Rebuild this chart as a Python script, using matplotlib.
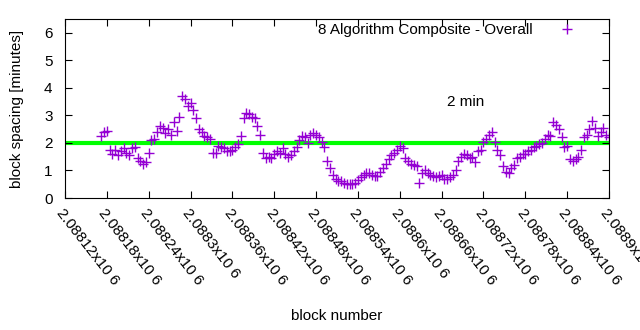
import numpy as np
import matplotlib
matplotlib.use("Agg")
import matplotlib.pyplot as plt
from matplotlib.ticker import FuncFormatter, MultipleLocator

plt.rcParams['font.family'] = ['Liberation Sans', 'DejaVu Sans']

# block numbers (every 4th block shown) and spacing in minutes
blocks = np.arange(2088172, 2088901, 4)
spacing = [
    2.25, 2.4, 2.45, 1.75, 1.6, 1.75, 1.55, 1.7, 1.8, 1.65,
    1.55, 1.8, 1.85, 1.45, 1.35, 1.25, 1.3, 1.65, 2.1, 2.15,
    2.4, 2.6, 2.55, 2.35, 2.5, 2.3, 2.75, 2.45, 2.95, 3.7,
    3.6, 3.35, 3.45, 3.2, 2.9, 2.5, 2.4, 2.25, 2.2, 2.15,
    1.65, 1.65, 1.9, 1.85, 1.8, 1.7, 1.7, 1.75, 1.85, 1.95,
    2.25, 2.9, 3.1, 3.05, 2.95, 2.9, 2.6, 2.3, 1.65, 1.45,
    1.5, 1.45, 1.6, 1.7, 1.65, 1.8, 1.6, 1.5, 1.55, 1.7,
    1.85, 2.1, 2.25, 2.2, 2.0, 2.3, 2.35, 2.3, 2.2, 2.05,
    1.85, 1.35, 1.1, 0.85, 0.7, 0.6, 0.6, 0.55, 0.5, 0.5,
    0.5, 0.55, 0.65, 0.75, 0.85, 0.9, 0.9, 0.85, 0.8, 0.8,
    0.95, 1.1, 1.25, 1.4, 1.55, 1.65, 1.75, 1.9, 1.8, 1.45,
    1.35, 1.25, 1.2, 1.15, 0.55, 0.9, 1.0, 0.9, 0.85, 0.8,
    0.75, 0.8, 0.85, 0.7, 0.7, 0.75, 0.85, 1.0, 1.35, 1.5,
    1.6, 1.55, 1.45, 1.5, 1.3, 1.7, 1.75, 2.05, 2.15, 2.3,
    2.4, 2.05, 1.75, 1.55, 1.15, 0.95, 0.9, 1.1, 1.2, 1.45,
    1.5, 1.6, 1.6, 1.7, 1.75, 1.85, 1.9, 1.95, 2.0, 2.15,
    2.3, 2.25, 2.75, 2.65, 2.5, 2.2, 1.85, 1.9, 1.4, 1.35,
    1.4, 1.5, 1.75, 2.2, 2.3, 2.5, 2.8, 2.55, 2.25, 2.4,
    2.55, 2.3, 2.2,
]
target = 2.0
x_range = (2088120, 2088900)
series_label = "8 Algorithm Composite - Overall"

fig = plt.figure(figsize=(6.4, 3.3), dpi=100)
ax = fig.add_axes([65 / 640, 132 / 330, 544 / 640, 179 / 330])

ax.axhline(target, color='#00ff00', linewidth=3, zorder=1)
ax.plot(blocks, spacing, linestyle='none', marker='+', color='#9400d3',
        markersize=6.5, markeredgewidth=1, label=series_label, zorder=2)
ax.text(2088668, 3.5, "2 min", fontsize=11, va='center', ha='left')

ax.set_xlim(*x_range)
ax.set_ylim(0, 6.5)
ax.xaxis.set_major_locator(MultipleLocator(60))
ax.yaxis.set_major_locator(MultipleLocator(1))
ax.xaxis.set_major_formatter(FuncFormatter(lambda v, p: f"{v / 1e6:g}x10 6"))
ax.tick_params(direction='in', top=True, right=True, length=5)
ax.tick_params(axis='x', pad=6, labelsize=11)
ax.tick_params(axis='y', pad=9, labelsize=11)
for lbl in ax.get_xticklabels():
    lbl.set_rotation(-52)
    lbl.set_ha('left')
    lbl.set_va('top')
    lbl.set_rotation_mode('anchor')

ax.set_xlabel("block number", fontsize=11)
ax.set_ylabel("block spacing [minutes]", fontsize=11)
ax.xaxis.set_label_coords(0.5, -0.62)
ax.yaxis.set_label_coords(-0.075, 0.5)
ax.legend(loc='upper right', bbox_to_anchor=(0.963, 0.975), frameon=False,
          markerfirst=False, fontsize=11, handlelength=2.9, handletextpad=0.8,
          borderaxespad=0, borderpad=0)

plt.savefig('out.png', dpi=100)
